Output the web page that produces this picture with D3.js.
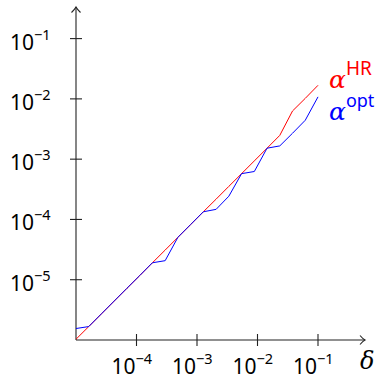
<!DOCTYPE html>
<html>
<head>
<meta charset="UTF-8">
<script src="https://d3js.org/d3.v7.min.js"></script>
<style>
    body { margin: 0; background: white; }
    .tick-label { font-family: "Noto Sans", sans-serif; fill: black; }
    .math { font-family: "DejaVu Serif", serif; font-style: italic; }
</style>
</head>
<body>
<svg id="chart" width="375" height="380"></svg>
<script>
// delta sample points (log-spaced)
var deltas = [1e-5, 1.624e-5, 2.637e-5, 4.281e-5, 6.952e-5, 1.129e-4, 1.833e-4, 2.976e-4,
              4.833e-4, 7.848e-4, 1.274e-3, 2.069e-3, 3.360e-3, 5.456e-3, 8.859e-3, 1.438e-2,
              2.336e-2, 3.793e-2, 6.158e-2, 1e-1]
// alpha^HR (red)
var alphaHR = [1.03e-6, 1.67e-6, 2.72e-6, 4.43e-6, 7.21e-6, 1.17e-5, 1.91e-5, 3.10e-5,
               5.05e-5, 8.22e-5, 1.34e-4, 2.17e-4, 3.54e-4, 5.75e-4, 9.35e-4, 1.52e-3,
               2.48e-3, 6.30e-3, 1.02e-2, 1.68e-2]
// alpha^opt (blue)
var alphaOpt = [1.55e-6, 1.67e-6, 2.72e-6, 4.43e-6, 7.21e-6, 1.17e-5, 1.91e-5, 2.07e-5,
                5.05e-5, 8.22e-5, 1.34e-4, 1.47e-4, 2.43e-4, 5.75e-4, 6.24e-4, 1.52e-3,
                1.66e-3, 2.69e-3, 4.42e-3, 1.08e-2]
var xTicks = [1e-4, 1e-3, 1e-2, 1e-1]
var xTickExp = ["\u22124", "\u22123", "\u22122", "\u22121"]
var yTicks = [1e-5, 1e-4, 1e-3, 1e-2, 1e-1]
var yTickExp = ["\u22125", "\u22124", "\u22123", "\u22122", "\u22121"]

var svg = d3.select("#chart")

var x = d3.scaleLog().domain([1e-5, 1e-1]).range([76, 318])
var y = d3.scaleLog().domain([1e-6, 1e-1]).range([340, 38.6])

var x0 = x(1e-5), y0 = y(1e-6)

// axes with arrow heads
var axes = svg.append("g").attr("stroke", "#222").attr("fill", "none").attr("stroke-width", 1.1)
axes.append("line").attr("x1", x0).attr("y1", y0).attr("x2", 365).attr("y2", y0)
axes.append("line").attr("x1", x0).attr("y1", y0).attr("x2", x0).attr("y2", 7)
axes.append("path").attr("d", "M" + (365 - 5) + "," + (y0 - 4.5) + " Q" + (363) + "," + (y0 - 1) + " 365," + y0 +
                                 " Q363," + (y0 + 1) + " " + (365 - 5) + "," + (y0 + 4.5))
axes.append("path").attr("d", "M" + (x0 - 4.5) + "," + 12.5 + " Q" + (x0 - 1) + ",9 " + x0 + ",7" +
                                 " Q" + (x0 + 1) + ",9 " + (x0 + 4.5) + ",12.5")

// ticks
axes.selectAll(".xt").data(xTicks).enter().append("line")
    .attr("x1", d => x(d)).attr("x2", d => x(d)).attr("y1", y0 - 6).attr("y2", y0 + 6)
axes.selectAll(".yt").data(yTicks).enter().append("line")
    .attr("y1", d => y(d)).attr("y2", d => y(d)).attr("x1", x0 - 6).attr("x2", x0 + 6)

// tick labels
var xl = svg.selectAll(".xl").data(xTicks).enter().append("text")
    .attr("class", "tick-label")
    .attr("x", d => x(d) - 25).attr("y", 374)
    .style("font-size", "21px")
xl.append("tspan").text("10")
xl.append("tspan").attr("dy", -10).style("font-size", "14.5px").text((d, i) => xTickExp[i])

var yl = svg.selectAll(".yl").data(yTicks).enter().append("text")
    .attr("class", "tick-label")
    .attr("x", 10).attr("y", d => y(d) + 11)
    .style("font-size", "21px")
yl.append("tspan").text("10")
yl.append("tspan").attr("dy", -10).style("font-size", "14.5px").text((d, i) => yTickExp[i])

// series
var line = d3.line().x((d, i) => x(deltas[i])).y(d => y(d))
svg.append("path").datum(alphaHR).attr("d", line)
    .attr("fill", "none").attr("stroke", "#ff0000").attr("stroke-width", 1)
svg.append("path").datum(alphaOpt).attr("d", line)
    .attr("fill", "none").attr("stroke", "#0000ff").attr("stroke-width", 1)

// labels
var lab1 = svg.append("text").attr("x", 329).attr("y", 88).attr("fill", "#ff0000")
lab1.append("tspan").attr("class", "math").style("font-size", "25px").text("\u03b1")
lab1.append("tspan").attr("dy", -13).style("font-family", "Noto Sans, sans-serif").style("font-size", "19px").text("HR")
var lab2 = svg.append("text").attr("x", 329).attr("y", 120).attr("fill", "#0000ff")
lab2.append("tspan").attr("class", "math").style("font-size", "25px").text("\u03b1")
lab2.append("tspan").attr("dy", -13).style("font-family", "Noto Sans, sans-serif").style("font-size", "18px").text("opt")

svg.append("text").attr("class", "math").attr("x", 360).attr("y", 369)
    .style("font-size", "24px").text("\u03b4")
</script>
</body>
</html>
